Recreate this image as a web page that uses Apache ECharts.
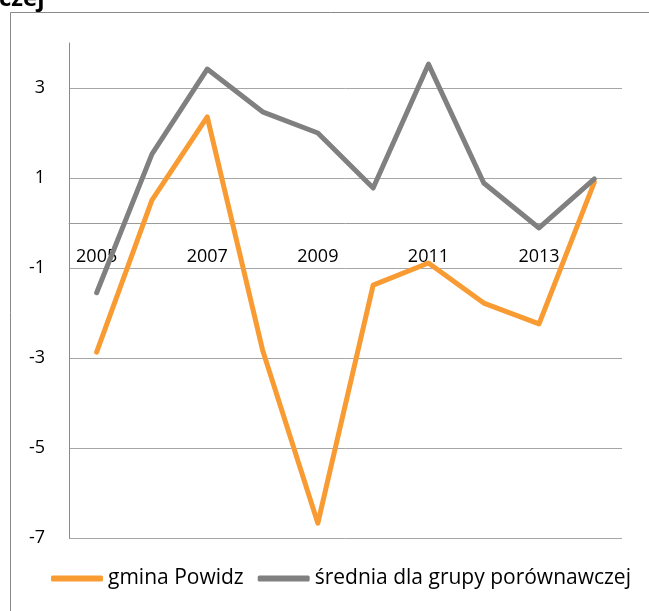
<!DOCTYPE html>
<html><head><meta charset="utf-8">
<script src="https://cdn.jsdelivr.net/npm/echarts@6/dist/echarts.min.js"></script>
<style>html,body{margin:0;padding:0;background:#fff}#c{width:649px;height:611px}</style>
</head><body><div id="c"></div>
<script>
const years = ['2005','2006','2007','2008','2009','2010','2011','2012','2013','2014'];
const gminaPowidz = [-2.87, 0.51, 2.36, -2.82, -6.67, -1.38, -0.89, -1.78, -2.24, 0.91];
const sredniaGrupy = [-1.55, 1.53, 3.42, 2.47, 2.0, 0.78, 3.53, 0.89, -0.11, 0.98];
const seriesNames = ['gmina Powidz', 'średnia dla grupy porównawczej'];
const FONT = 'Open Sans';
const chart = echarts.init(document.getElementById('c'));
chart.setOption({
  animation: false,
  textStyle: {fontFamily: FONT},
  graphic: [
    {type:'rect', shape:{x:10.5, y:12.5, width:700, height:700}, style:{fill:'none', stroke:'#898989', lineWidth:1}, silent:true},
    {type:'text', left:-1, top:-13, style:{text:'czej', font:'bold 24px "Open Sans"', fill:'#000'}}
  ],
  grid: {left:69, right:27, top:43, bottom:73},
  legend: {
    left: 46, top: 563,
    itemWidth: 52, itemHeight: 6, itemGap: 14,
    icon: 'roundRect',
    textStyle: {fontSize: 21, color:'#000', fontFamily: FONT},
    data: seriesNames
  },
  xAxis: {
    type:'category', data: years, boundaryGap: true,
    axisLine: {onZero: true, lineStyle:{color:'#9a9a9a', width:1}},
    axisTick: {show:false},
    axisLabel: {interval: 1, margin: -290, fontSize: 18, color:'#000', fontFamily: FONT},
    splitLine: {show:false}
  },
  yAxis: {
    type:'value', min:-7, max:4, interval:2,
    axisLine: {show:true, lineStyle:{color:'#8a8a8a', width:1}},
    axisTick: {show:false},
    axisLabel: {showMaxLabel:false, margin: 24, fontSize: 18, color:'#000', fontFamily: FONT},
    splitLine: {show:true, showMaxLine:false, lineStyle:{color:'#a6a6a6', width:1}}
  },
  series: [
    {name: seriesNames[0], type:'line', data: gminaPowidz, symbol:'none',
     lineStyle:{color:'#F99B33', width:5, cap:'round', join:'round'}, itemStyle:{color:'#F99B33'}},
    {name: seriesNames[1], type:'line', data: sredniaGrupy, symbol:'none',
     lineStyle:{color:'#808080', width:5, cap:'round', join:'round'}, itemStyle:{color:'#808080'}}
  ]
});
</script></body></html>
